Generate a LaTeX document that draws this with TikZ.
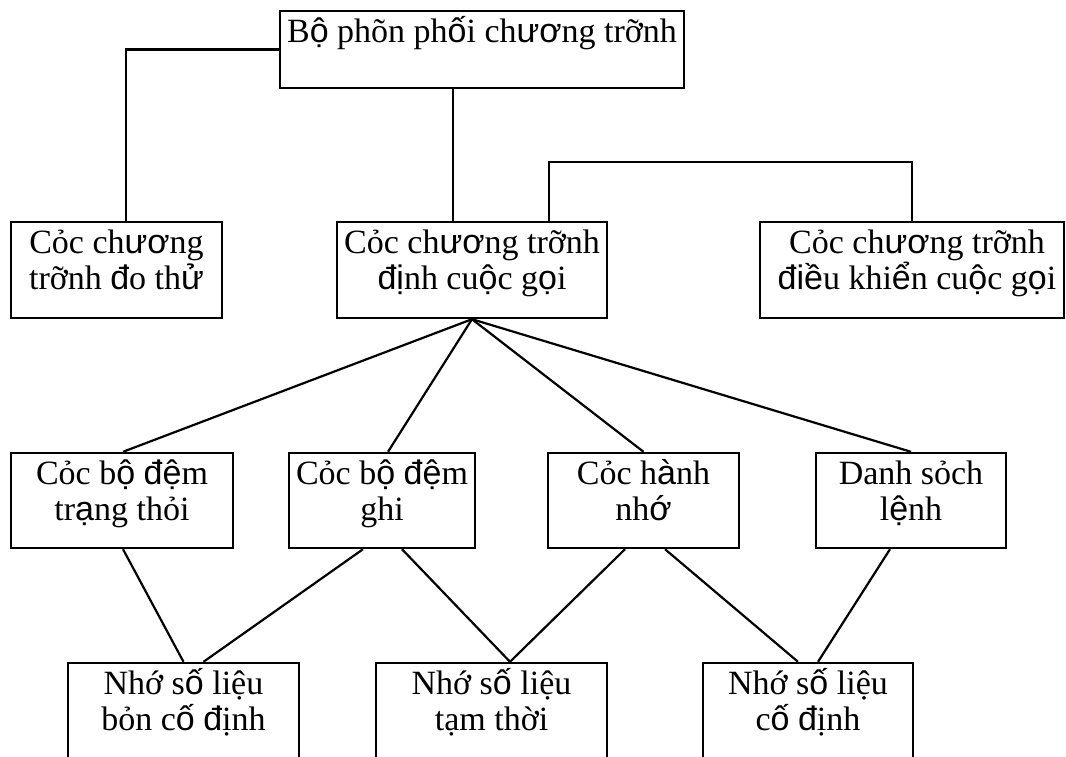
\documentclass[tikz,border=0pt]{standalone}
\usepackage{fontspec}
\setmainfont{Liberation Serif}
\newfontfamily\vsans{Liberation Sans}
\newcommand\vs[1]{{\vsans #1}}
\usetikzlibrary{positioning}

\tikzset{
  box/.style={draw=black, line width=2.4pt, rectangle, inner sep=0pt},
  txt/.style={anchor=north, inner sep=0pt, align=center,
    font=\fontsize{34}{36.5}\selectfont},
  link/.style={draw=black, line width=2.2pt}
}
% first-line strut so every label's first baseline sits at the same depth
\newcommand\fl{\rule{0pt}{32pt}}

\begin{document}
\begin{tikzpicture}[x=1pt, y=-1pt]
  \useasboundingbox (0,0) rectangle (1066,756);
  \clip (0,0) rectangle (1066,756);

  % boxes: centre and size
  \node[box, minimum width=404, minimum height=77] (top) at (482,49.5) {};
  \node[box, minimum width=211, minimum height=96] (test) at (116.5,270) {};
  \node[box, minimum width=270, minimum height=96] (route) at (472,270) {};
  \node[box, minimum width=304, minimum height=96] (ctrl) at (912,270) {};
  \node[box, minimum width=222, minimum height=95] (state) at (122,500.5) {};
  \node[box, minimum width=186, minimum height=95] (rec) at (382,500.5) {};
  \node[box, minimum width=191, minimum height=95] (mem) at (643.5,500.5) {};
  \node[box, minimum width=190, minimum height=95] (list) at (911,500.5) {};
  \node[box, minimum width=231, minimum height=120] (semi) at (183.5,723) {};
  \node[box, minimum width=231, minimum height=120] (temp) at (491.5,723) {};
  \node[box, minimum width=210, minimum height=120] (fixed) at (808,723) {};

  % labels
  \node[txt] (ttop) at (top.north) {\fl B\vs{ộ} phõn ph\vs{ố}i ch\vs{ươ}ng trỡnh};
  \node[txt] (ttest) at (test.north) {\fl Cỏc ch\vs{ươ}ng\\trỡnh \vs{đ}o th\vs{ử}};
  \node[txt] (troute) at (route.north) {\fl Cỏc ch\vs{ươ}ng trỡnh\\\vs{đị}nh cu\vs{ộ}c g\vs{ọ}i};
  \node[txt] (tctrl) at ([xshift=5]ctrl.north) {\fl Cỏc ch\vs{ươ}ng trỡnh\\\vs{điề}u khi\vs{ể}n cu\vs{ộ}c g\vs{ọ}i};
  \node[txt] (tstate) at (state.north) {\fl Cỏc b\vs{ộ} \vs{đệ}m\\tr\vs{ạ}ng thỏi};
  \node[txt] (trec) at (rec.north) {\fl Cỏc b\vs{ộ} \vs{đệ}m\\ghi};
  \node[txt] (tmem) at (mem.north) {\fl Cỏc h\vs{à}nh\\nh\vs{ớ}};
  \node[txt] (tlist) at (list.north) {\fl Danh sỏch\\l\vs{ệ}nh};
  \node[txt] (tsemi) at (semi.north) {\fl Nhớ s\vs{ố} liệu\\bỏn c\vs{ố} \vs{đ}ịnh};
  \node[txt] (ttemp) at (temp.north) {\fl Nhớ s\vs{ố} liệu\\tạm thời};
  \node[txt] (tfixed) at (fixed.north) {\fl Nhớ s\vs{ố} liệu\\c\vs{ố} \vs{đ}ịnh};

  % tree links from the top box
  \draw[link] (top.west) -| ([xshift=9.5]test.north);
  \draw[link] ([xshift=-19]route.north) -- ([xshift=-19]route.north |- top.south);
  \draw[link] ([xshift=77]route.north) -- ([xshift=77,yshift=59]route.north) -| (ctrl.north);

  % fan from the call-routing box
  \draw[link] (route.south) -- ([xshift=1]state.north);
  \draw[link] (route.south) -- ([xshift=6]rec.north);
  \draw[link] (route.south) -- (mem.north);
  \draw[link] (route.south) -- (list.north);

  % links to the data stores
  \draw[link] ([xshift=1]state.south) -- (semi.north);
  \draw[link] ([xshift=-19]rec.south) -- ([xshift=20]semi.north);
  \draw[link] ([xshift=20]rec.south) -- ([xshift=18.5]temp.north);
  \draw[link] ([xshift=-18.5]mem.south) -- ([xshift=18.5]temp.north);
  \draw[link] ([xshift=21.5]mem.south) -- ([xshift=-10]fixed.north);
  \draw[link] ([xshift=-21]list.south) -- ([xshift=10]fixed.north);
\end{tikzpicture}
\end{document}
